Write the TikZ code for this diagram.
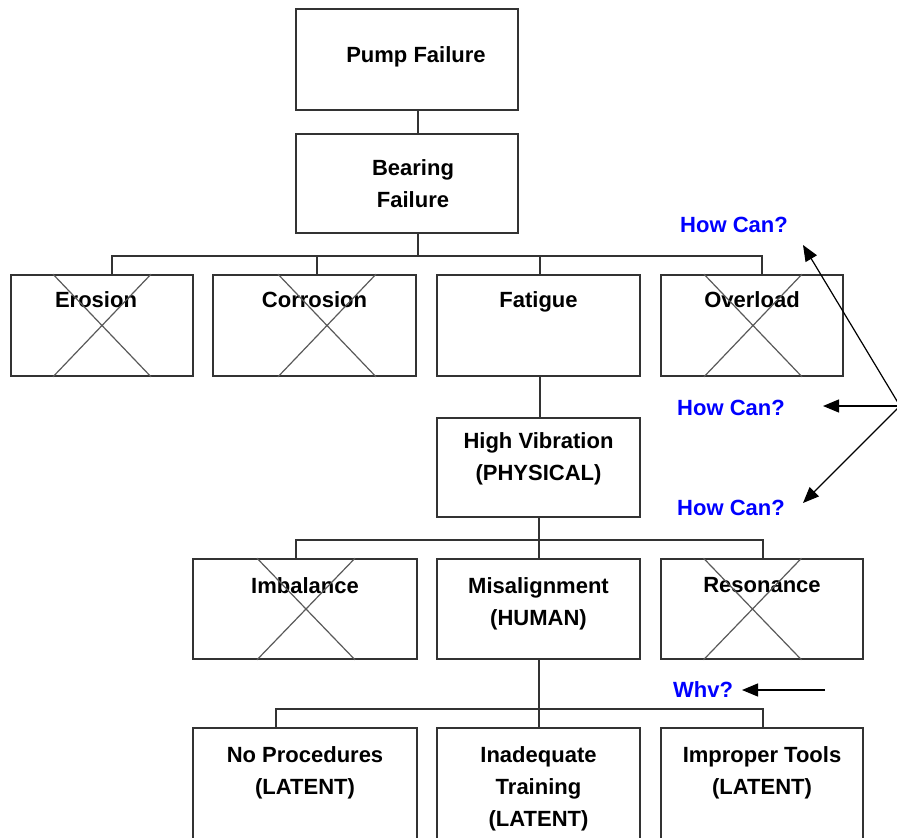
\documentclass[tikz,border=0pt]{standalone}
\usepackage{fontspec}
\setmainfont{Liberation Sans}
\usetikzlibrary{positioning,arrows.meta}
\tikzset{
  box/.style={draw=black!80, line width=1.6pt, minimum height=101pt, inner sep=0pt},
  txt/.style={font=\bfseries\fontsize{22}{32}\selectfont, align=center, inner sep=0pt},
  ask/.style={txt, text=blue},
  xline/.style={draw=black!65, line width=1.2pt},
  link/.style={draw=black!80, line width=1.6pt},
  arr/.style={black, line width=1.2pt, -{Triangle[length=16pt,width=13pt]}}
}
% cross out a ruled-out cause
\newcommand{\strikebox}[2]{%
  \draw[xline] ([xshift=#2pt-49pt]#1.north) -- ([xshift=#2pt+49pt]#1.south)
               ([xshift=#2pt+49pt]#1.north) -- ([xshift=#2pt-49pt]#1.south);}
\begin{document}
\begin{tikzpicture}[x=1pt,y=1pt]
	\clip (0,0) rectangle (897,-838);
	% boxes
	\node[box, minimum width=222pt] (pump) at (407,-59.5) {};
	\node[box, minimum width=222pt, minimum height=99pt] (bear) at (407,-183.5) {};
	\node[box, minimum width=182pt] (ero) at (102,-325.5) {};
	\node[box, minimum width=203pt] (cor) at (314.5,-325.5) {};
	\node[box, minimum width=203pt] (fat) at (538.5,-325.5) {};
	\node[box, minimum width=182pt] (ovl) at (752,-325.5) {};
	\node[box, minimum width=203pt, minimum height=99pt] (hv) at (538.5,-467.5) {};
	\node[box, minimum width=224pt, minimum height=100pt] (imb) at (305,-609) {};
	\node[box, minimum width=203pt, minimum height=100pt] (mis) at (538.5,-609) {};
	\node[box, minimum width=202pt, minimum height=100pt] (res) at (762,-609) {};
	\node[box, minimum width=224pt, minimum height=130pt] (nop) at (305,-793) {};
	\node[box, minimum width=203pt, minimum height=130pt] (inad) at (538.5,-793) {};
	\node[box, minimum width=202pt, minimum height=130pt] (impr) at (762,-793) {};
	% texts
	\node[txt, below=38pt of pump.north, xshift=9pt] (pump-t) {Pump Failure};
	\node[txt, below=26pt of bear.north, xshift=6pt] (bear-t) {Bearing\\Failure};
	\node[txt, below=17pt of ero.north, xshift=-6pt] (ero-t) {Erosion};
	\node[txt, below=17pt of cor.north] (cor-t) {Corrosion};
	\node[txt, below=17pt of fat.north] (fat-t) {Fatigue};
	\node[txt, below=17pt of ovl.north] (ovl-t) {Overload};
	\node[txt, below=15pt of hv.north] (hv-t) {High Vibration\\(PHYSICAL)};
	\node[txt, below=19pt of imb.north] (imb-t) {Imbalance};
	\node[txt, below=19pt of mis.north] (mis-t) {Misalignment\\(HUMAN)};
	\node[txt, below=19pt of res.north] (res-t) {Resonance};
	\node[txt, below=19pt of nop.north] (nop-t) {No Procedures\\(LATENT)};
	\node[txt, below=19pt of inad.north] (inad-t) {Inadequate\\Training\\(LATENT)};
	\node[txt, below=19pt of impr.north] (impr-t) {Improper Tools\\(LATENT)};
	% crossed out
	\strikebox{ero}{0}
	\strikebox{cor}{12.5}
	\strikebox{ovl}{1}
	\strikebox{imb}{1}
	\strikebox{res}{-9.5}
	% tree lines
	\draw[link] ([xshift=11pt]pump.south) -- ([xshift=11pt]bear.north);
	\draw[link] ([xshift=11pt]bear.south) -- ++(0,-22) coordinate (bus1);
	\draw[link] ([xshift=10pt]ero.north) |- (bus1) -| ([xshift=10pt]ovl.north);
	\draw[link] ([xshift=2.5pt]cor.north) |- (bus1);
	\draw[link] ([xshift=1.5pt]fat.north) |- (bus1);
	\draw[link] ([xshift=1.5pt]fat.south) -- ([xshift=1.5pt]hv.north);
	\draw[link] ([xshift=0.5pt]hv.south) -- ++(0,-22) coordinate (bus2);
	\draw[link] ([xshift=-9pt]imb.north) |- (bus2) -| ([xshift=1pt]res.north);
	\draw[link] ([xshift=0.5pt]mis.north) -- (bus2);
	\draw[link] ([xshift=0.5pt]mis.south) -- ++(0,-49) coordinate (bus3);
	\draw[link] ([xshift=-29pt]nop.north) |- (bus3) -| ([xshift=1pt]impr.north);
	\draw[link] ([xshift=0.5pt]inad.north) -- (bus3);
	% questions
	\node[ask] (how1) at (734,-225) {How Can?};
	\node[ask] (how2) at (731,-408) {How Can?};
	\node[ask] (how3) at (731,-508) {How Can?};
	\node[ask] (why) at (703,-690) {Whv?};
	\coordinate (src) at (900,-406);
	\coordinate (tip1) at (803,-245);
	\coordinate (tip2) at (823,-406);
	\coordinate (tip3) at (803,-503);
	\coordinate (whysrc) at (825,-690);
	\coordinate (whytip) at (742,-690);
	\draw[arr] (src) -- (tip1);
	\draw[arr] (src) -- (tip2);
	\draw[arr] (src) -- (tip3);
	\draw[arr] (whysrc) -- (whytip);
\end{tikzpicture}
\end{document}
